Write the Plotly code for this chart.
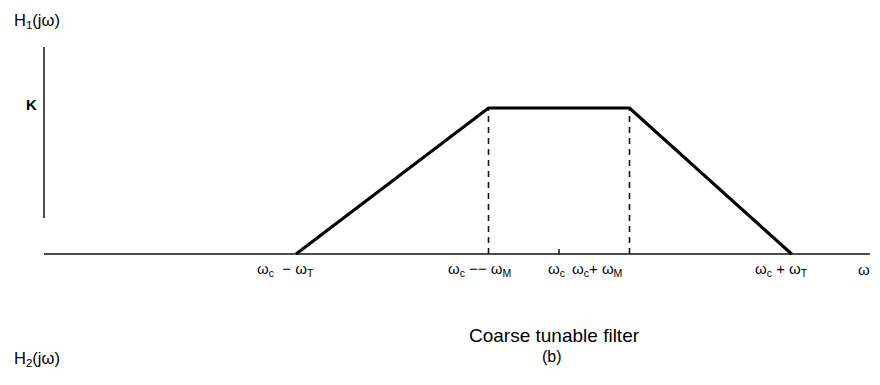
import plotly.graph_objects as go

# ---- data (frequency in units of omega_M, omega_c at 0) ----
omega_c = 0.0
K = 1.0
break_freqs = [-3.73, -1.0, 1.0, 3.3]     # wc-wT, wc-wM, wc+wM, wc+wT as drawn
gain = [0.0, K, K, 0.0]
freq_axis = [-7.305, 4.41]                # extent of the omega axis
gain_axis = [0.247, 1.418]                # extent of the drawn H1 axis
tick_labels = ["ω<sub>c</sub>  − ω<sub>T</sub>", "ω<sub>c</sub> −− ω<sub>M</sub>",
               "ω<sub>c</sub>+ ω<sub>M</sub>", "ω<sub>c</sub> + ω<sub>T</sub>"]
tick_label_pos = [-3.885, -1.13, 0.54, 3.16]

FONT = "Liberation Sans, Arial, sans-serif"
fig = go.Figure()

# horizontal omega axis
fig.add_trace(go.Scatter(x=freq_axis, y=[0, 0], mode="lines",
                         line=dict(color="#111", width=1.6), hoverinfo="skip"))
# vertical H1 axis
fig.add_trace(go.Scatter(x=[freq_axis[0], freq_axis[0]], y=gain_axis, mode="lines",
                         line=dict(color="#222", width=1.6), hoverinfo="skip"))
# dashed verticals at omega_c -/+ omega_M
for f in break_freqs[1:3]:
    fig.add_trace(go.Scatter(x=[f, f], y=[0, K], mode="lines",
                             line=dict(color="#111", width=1.6, dash="6px,5px"), hoverinfo="skip"))
# small tick at omega_c
fig.add_trace(go.Scatter(x=[omega_c, omega_c], y=[0, 0.035], mode="lines",
                         line=dict(color="#111", width=1.5), hoverinfo="skip"))
# trapezoid filter response
fig.add_trace(go.Scatter(x=break_freqs, y=gain, mode="lines",
                         line=dict(color="#000", width=3.2), hoverinfo="skip"))

ann = []
def label(x, y, text, size=15, xanchor="center"):
    ann.append(dict(x=x, y=y, xref="x", yref="y", text=text, showarrow=False,
                    xanchor=xanchor, yanchor="middle",
                    font=dict(family=FONT, size=size, color="#000")))

label_y = -0.103
for x, t in zip(tick_label_pos, tick_labels):
    label(x, label_y, t)
label(omega_c - 0.04, label_y, "ω<sub>c</sub>")
label(4.33, label_y, "ω")
label(-7.76, 1.596, "H<sub>1</sub>(jω)", size=16.5, xanchor="left")
label(-7.594, 1.021, "<b>K</b>", xanchor="left")
label(-0.07, -0.555, "Coarse tunable filter", size=19)
label(-0.10, -0.699, "(b)", size=16)
label(-7.76, -0.719, "H<sub>2</sub>(jω)", size=16.5, xanchor="left")

fig.update_layout(
    width=880, height=385,
    margin=dict(l=0, r=0, t=0, b=0),
    paper_bgcolor="white", plot_bgcolor="white",
    showlegend=False,
    xaxis=dict(range=[-551 / 70.5, 329 / 70.5], visible=False, fixedrange=True),
    yaxis=dict(range=[-139 / 146, 246 / 146], visible=False, fixedrange=True),
    annotations=ann,
)

fig.write_html("out.html")
